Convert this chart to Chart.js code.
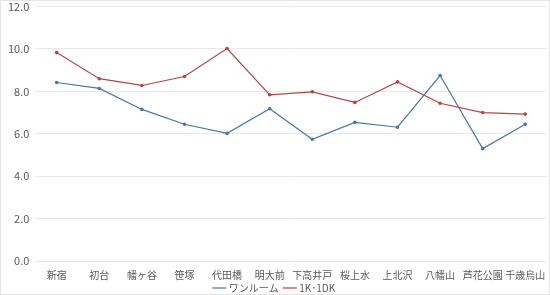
<!DOCTYPE html>
<html>
<head>
<meta charset="utf-8">
<script src="https://cdn.jsdelivr.net/npm/chart.js@4/dist/chart.umd.min.js"></script>
<style>
  html, body { margin: 0; padding: 0; background: #fff; }
  #wrap { width: 548px; height: 293px; border: 1px solid #e4e4e4; overflow: hidden; }
  #myChart { display: block; margin-top: -7px; }
</style>
</head>
<body>
<div id="wrap"><canvas id="myChart" width="548" height="302"></canvas></div>
<script>
// 駅名
const stations = ['新宿', '初台', '幡ヶ谷', '笹塚', '代田橋', '明大前', '下高井戸', '桜上水', '上北沢', '八幡山', '芦花公園', '千歳烏山'];
// 家賃相場（万円）
const oneRoom = [8.42, 8.14, 7.15, 6.45, 6.02, 7.18, 5.74, 6.54, 6.31, 8.75, 5.30, 6.45];
const oneK1DK = [9.83, 8.60, 8.28, 8.70, 10.02, 7.84, 7.98, 7.48, 8.45, 7.44, 7.00, 6.93];

const ctx = document.getElementById('myChart');
var config = {
  type: 'line',
  data: {
    labels: stations,
    datasets: [{
      label: 'ワンルーム',
      data: oneRoom,
      borderColor: '#4a76a8',
      backgroundColor: '#4a76a8',
      borderWidth: 1.2,
      pointRadius: 1.2,
      pointHoverRadius: 1.2,
      tension: 0
    }, {
      label: '1K･1DK',
      data: oneK1DK,
      borderColor: '#b0474b',
      backgroundColor: '#b0474b',
      borderWidth: 1.2,
      pointRadius: 1.2,
      pointHoverRadius: 1.2,
      tension: 0
    }]
  },
  options: {
    responsive: false,
    animation: false,
    layout: { padding: { left: 1, right: 1, top: 0, bottom: -7 } },
    plugins: {
      legend: {
        position: 'bottom',
        labels: {
          usePointStyle: true,
          pointStyle: 'line',
          boxWidth: 9,
          padding: 2,
          color: '#595959',
          font: { family: '"Noto Sans CJK JP"', size: 10 },
          // 凡例の間隔を少し広げる
          generateLabels: (chart) => Chart.defaults.plugins.legend.labels.generateLabels(chart)
            .map((l, i) => ({ ...l, text: i === 0 ? l.text + '  ' : l.text }))
        }
      },
      tooltip: { enabled: false }
    },
    scales: {
      x: {
        offset: true,
        grid: { display: false },
        border: { display: false },
        ticks: {
          color: '#595959',
          maxRotation: 0,
          autoSkip: false,
          padding: 0,
          font: { family: '"Noto Sans CJK JP"', size: 10 }
        }
      },
      y: {
        min: 0,
        max: 12,
        grid: { color: '#e8e8e8', drawTicks: false },
        border: { display: false },
        ticks: {
          stepSize: 2,
          color: '#595959',
          padding: 6,
          font: { family: '"Noto Sans CJK JP"', size: 11 },
          callback: (v) => v.toFixed(1)
        }
      }
    }
  }
};

var myChart = new Chart(ctx, config);
</script>
</body>
</html>
